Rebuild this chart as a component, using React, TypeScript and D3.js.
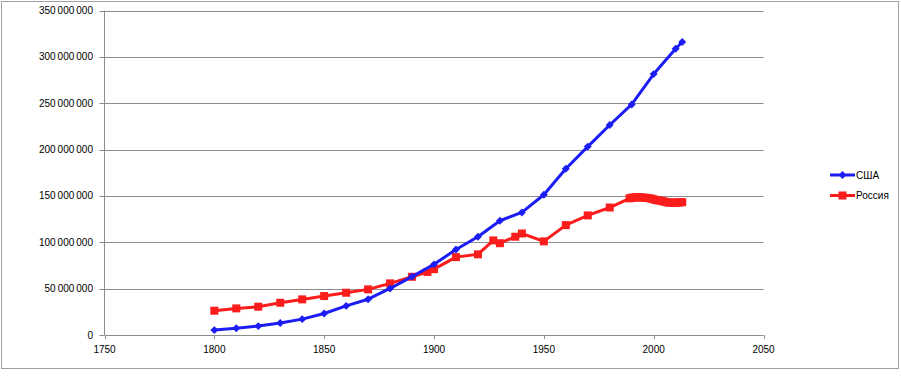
import React from "react";
import * as d3 from "d3";

const usaYears = [1800, 1810, 1820, 1830, 1840, 1850, 1860, 1870, 1880, 1890, 1900, 1910, 1920, 1930, 1940, 1950, 1960, 1970, 1980, 1990, 2000, 2010, 2013];
const usaValues = [5.3, 7.2, 9.6, 12.9, 17.1, 23.2, 31.4, 38.6, 50.2, 63.0, 76.2, 92.2, 106.0, 123.2, 132.2, 151.3, 179.3, 203.2, 226.5, 248.7, 281.4, 308.7, 316.1];

const rusYears = [1800, 1810, 1820, 1830, 1840, 1850, 1860, 1870, 1880, 1890, 1897, 1900, 1910, 1920, 1927, 1930, 1937, 1940, 1950, 1960, 1970, 1980,
  1989, 1990, 1991, 1992, 1993, 1994, 1995, 1996, 1997, 1998, 1999, 2000, 2001, 2002, 2003, 2004, 2005, 2006, 2007, 2008, 2009, 2010, 2011, 2012, 2013];
const rusValues = [26.2, 28.7, 30.5, 34.8, 38.4, 42.0, 45.6, 49.2, 55.7, 62.8, 68.0, 71.0, 84.0, 87.0, 102.0, 99.0, 106.0, 109.5, 101.0, 118.5, 129.0, 137.5,
  147.4, 148.0, 148.3, 148.5, 148.6, 148.4, 148.3, 148.0, 147.8, 147.5, 147.0, 146.3, 145.6, 145.2, 144.9, 144.3, 143.8, 143.2, 142.8, 142.8, 142.7, 142.8, 142.9, 143.0, 143.3];

const xTicks = [1750, 1800, 1850, 1900, 1950, 2000, 2050];
const yTicks = [0, 50, 100, 150, 200, 250, 300, 350];
const seriesNames = ["США", "Россия"];

const W = 901, H = 382;
const left = 104.5, right = 763.5, top = 10.5, bottom = 335;
const BLUE = "#1c1cf5";
const RED = "#fb1c1c";
const FONT = "'Liberation Sans', Arial, sans-serif";

export default function App() {
  const x = d3.scaleLinear().domain([1750, 2050]).range([left, right]);
  const y = d3.scaleLinear().domain([0, 350]).range([bottom, top]);
  const fmt = (v: number) => {
    const n = Math.round(v * 1e6);
    return n === 0 ? "0" : d3.format(",")(n).replace(/,/g, "\u2009");
  };
  const line = d3.line<[number, number]>().x(d => x(d[0])).y(d => y(d[1]));
  const usa: [number, number][] = usaYears.map((yr, i) => [yr, usaValues[i]]);
  const rus: [number, number][] = rusYears.map((yr, i) => [yr, rusValues[i]]);
  const diamond = d3.symbol().type(d3.symbolDiamond2).size(40)();

  return (
    <svg width={W} height={H} style={{ position: "absolute", left: 0, top: 0, background: "#fff" }} fontFamily={FONT}>
      <rect x={1.5} y={1.5} width={897} height={367} fill="#fff" stroke="#a0a0a0" />
      {yTicks.map(t => (
        <g key={t}>
          {t > 0 && <line x1={left} x2={right} y1={Math.round(y(t)) + 0.5} y2={Math.round(y(t)) + 0.5} stroke="#8c8c8c" />}
          <line x1={left - 5} x2={left} y1={Math.round(y(t)) + 0.5} y2={Math.round(y(t)) + 0.5} stroke="#8c8c8c" />
          <text x={93} y={y(t) + 3.5} textAnchor="end" fontSize={10} fill="#000">{fmt(t)}</text>
        </g>
      ))}
      <line x1={left} x2={left} y1={top} y2={bottom} stroke="#8c8c8c" />
      <line x1={left} x2={right} y1={bottom + 0.5} y2={bottom + 0.5} stroke="#8c8c8c" />
      {xTicks.map(t => (
        <g key={t}>
          <line x1={Math.round(x(t)) + 0.5} x2={Math.round(x(t)) + 0.5} y1={bottom} y2={bottom + 4} stroke="#8c8c8c" />
          <text x={x(t)} y={353} textAnchor="middle" fontSize={10} fill="#000">{t}</text>
        </g>
      ))}
      <path d={line(rus) || ""} fill="none" stroke={RED} strokeWidth={3} strokeLinejoin="round" />
      {rus.map((d, i) => (
        <rect key={i} x={x(d[0]) - 4} y={y(d[1]) - 4} width={8} height={8} fill={RED} />
      ))}
      <path d={line(usa) || ""} fill="none" stroke={BLUE} strokeWidth={3} strokeLinejoin="round" />
      {usa.map((d, i) => (
        <path key={i} d={diamond || ""} transform={`translate(${x(d[0])},${y(d[1])})`} fill={BLUE} />
      ))}
      <g>
        <line x1={830} x2={855} y1={175} y2={175} stroke={BLUE} strokeWidth={3} />
        <path d={diamond || ""} transform="translate(842.5,175)" fill={BLUE} />
        <text x={856} y={178.5} fontSize={10} fill="#000">{seriesNames[0]}</text>
        <line x1={830} x2={855} y1={195.5} y2={195.5} stroke={RED} strokeWidth={3} />
        <rect x={838.5} y={191.5} width={8} height={8} fill={RED} />
        <text x={856} y={199} fontSize={10} fill="#000">{seriesNames[1]}</text>
      </g>
    </svg>
  );
}
